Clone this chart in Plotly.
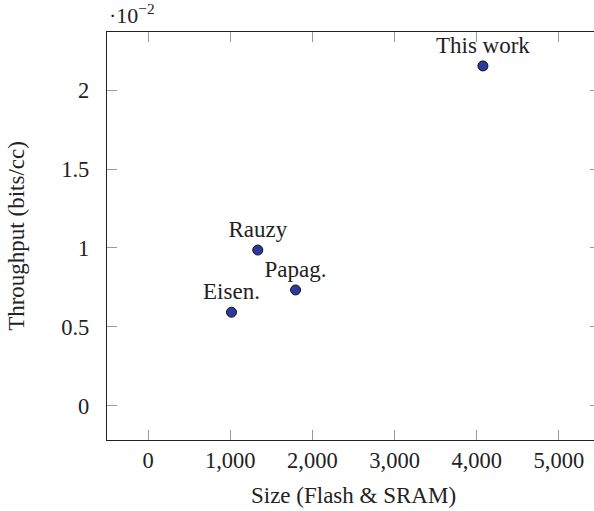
import plotly.graph_objects as go

names = ["Eisen.", "Rauzy", "Papag.", "This work"]
size = [1015, 1335, 1795, 4075]
throughput = [0.00593, 0.00987, 0.00734, 0.02154]

xticks = [0, 1000, 2000, 3000, 4000, 5000]
xticklabels = ["0", "1,000", "2,000", "3,000", "4,000", "5,000"]
yticks = [0, 0.005, 0.01, 0.015, 0.02]
yticklabels = ["0", "0.5", "1", "1.5", "2"]

FONT = "'Liberation Serif'"
TXT = "#222222"

fig = go.Figure()
fig.add_trace(go.Scatter(
    x=size, y=throughput, mode="markers+text", text=names,
    textposition="top center",
    textfont=dict(family=FONT, size=23, color=TXT),
    marker=dict(size=10, color="#2b3a9c", line=dict(color="#111111", width=1)),
    cliponaxis=False, hoverinfo="skip",
))

axis_common = dict(
    showgrid=False, zeroline=False, showline=True, linecolor="#222222",
    linewidth=1.3, mirror="ticks", ticks="inside", ticklen=10,
    tickcolor="#999999", tickwidth=1, automargin=False,
    tickfont=dict(family=FONT, size=22.5, color=TXT),
)

fig.update_layout(
    width=600, height=511,
    margin=dict(l=107, r=0, t=32, b=71, autoexpand=False),
    paper_bgcolor="white", plot_bgcolor="white",
    showlegend=False,
    xaxis=dict(range=[-500, 5500], tickvals=xticks, ticktext=xticklabels,
               title=dict(text="Size (Flash & SRAM)", font=dict(family=FONT, size=23, color=TXT), standoff=14),
               **axis_common),
    yaxis=dict(range=[-0.00217, 0.02369], tickvals=yticks, ticktext=yticklabels,
               ticklabelstandoff=12,
               title=dict(text="Throughput (bits/cc)", font=dict(family=FONT, size=23, color=TXT), standoff=30),
               **axis_common),
    annotations=[dict(
        text="·10<sup>−2</sup>", xref="paper", yref="paper", x=0, y=1,
        xanchor="left", yanchor="bottom", yshift=2, showarrow=False,
        font=dict(family=FONT, size=22, color=TXT),
    )],
)

fig.write_html("out.html", config={"displayModeBar": False},
               post_script="document.body.style.margin='0';document.body.style.overflow='hidden';document.documentElement.style.overflow='hidden';")
